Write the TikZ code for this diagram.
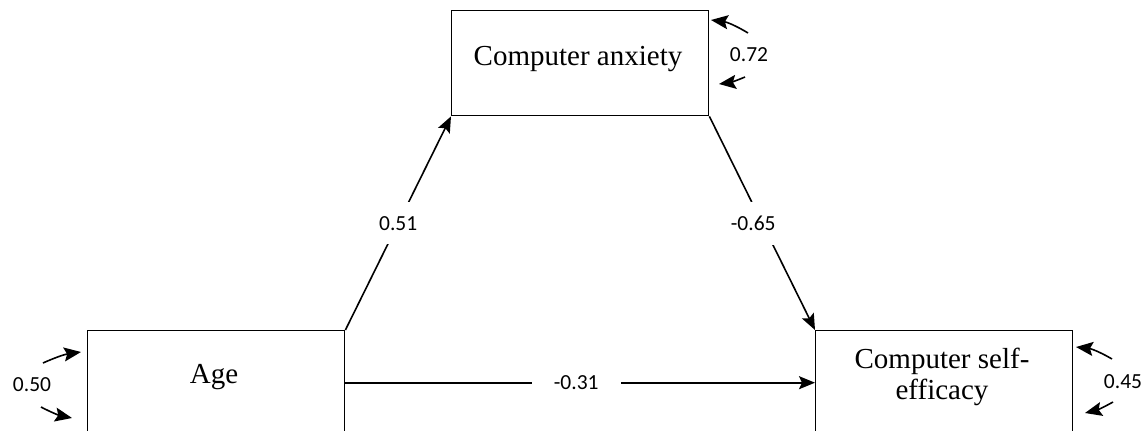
\documentclass[tikz,border=0pt]{standalone}
\usepackage{fontspec}
\setmainfont{Liberation Serif}
\newfontfamily\coeffont{Carlito}
\usetikzlibrary{arrows.meta}
\begin{document}
\begin{tikzpicture}[x=1pt,y=-1pt,
  box/.style={draw, line width=1.4pt, minimum width=257pt, inner sep=0pt},
  boxtext/.style={font=\fontsize{29}{31}\selectfont, anchor=base, inner sep=0pt},
  coef/.style={font=\coeffont\fontsize{21.5}{24}\selectfont, inner sep=0pt},
  gap/.style={coef, fill=white},
  path/.style={line width=1.6pt, -{Stealth[length=16pt,width=13pt,inset=3pt]}},
  resid/.style={line width=1.6pt, -{Stealth[length=17pt,width=14pt,inset=3pt]}},
]
\useasboundingbox (0,0) rectangle (1146,431);
\clip (0,0) rectangle (1146,431);

% variables
\node[box, minimum height=105pt, anchor=north west] (anx) at (451,10) {};
\node[box, minimum height=104pt, anchor=north west] (age) at (87,330) {};
\node[box, minimum height=104pt, anchor=north west] (cse) at (815,330) {};

\node[boxtext] (anxlab) at (578,65) {Computer anxiety};
\node[boxtext] (agelab) at (214,383) {Age};
\node[boxtext] (cselab) at (942,368) {Computer self-};
\node[boxtext] (cselabb) at (942,399) {efficacy};

% paths with coefficients
\draw[path] (age.north east) -- (anx.south west);
\path (age.north east) -- node[gap, inner xsep=4pt, inner ysep=14pt] (c1) {0.51} (anx.south west);

\draw[path] (anx.south east) -- (cse.north west);
\path (anx.south east) -- node[gap, inner xsep=4pt, inner ysep=14pt, xshift=-9pt] (c2) {-0.65} (cse.north west);

\draw[path] (age.east) -- (cse.west);
\path (age.east) -- node[gap, inner xsep=22pt, inner ysep=4pt, xshift=-4pt] (c3) {-0.31} (cse.west);

% residuals
\coordinate (r1a) at (748,33);  \coordinate (r1b) at (711,20);
\coordinate (r2a) at (745,77);  \coordinate (r2b) at (719,84);
\draw[resid] (r1a) to[bend right=12] (r1b);
\draw[resid] (r2a) to[bend left=8] (r2b);
\node[coef] (e1) at (749,55) {0.72};

\coordinate (r3a) at (43,363);  \coordinate (r3b) at (81,352);
\coordinate (r4a) at (41,407);  \coordinate (r4b) at (72,418);
\draw[resid] (r3a) to[bend left=8] (r3b);
\draw[resid] (r4a) to[bend right=8] (r4b);
\node[coef] (e2) at (32,385) {0.50};

\coordinate (r5a) at (1112,359); \coordinate (r5b) at (1076,347);
\coordinate (r6a) at (1113,402); \coordinate (r6b) at (1085,413);
\draw[resid] (r5a) to[bend right=12] (r5b);
\draw[resid] (r6a) to[bend left=8] (r6b);
\node[coef] (e3) at (1123,382) {0.45};
\end{tikzpicture}
\end{document}
